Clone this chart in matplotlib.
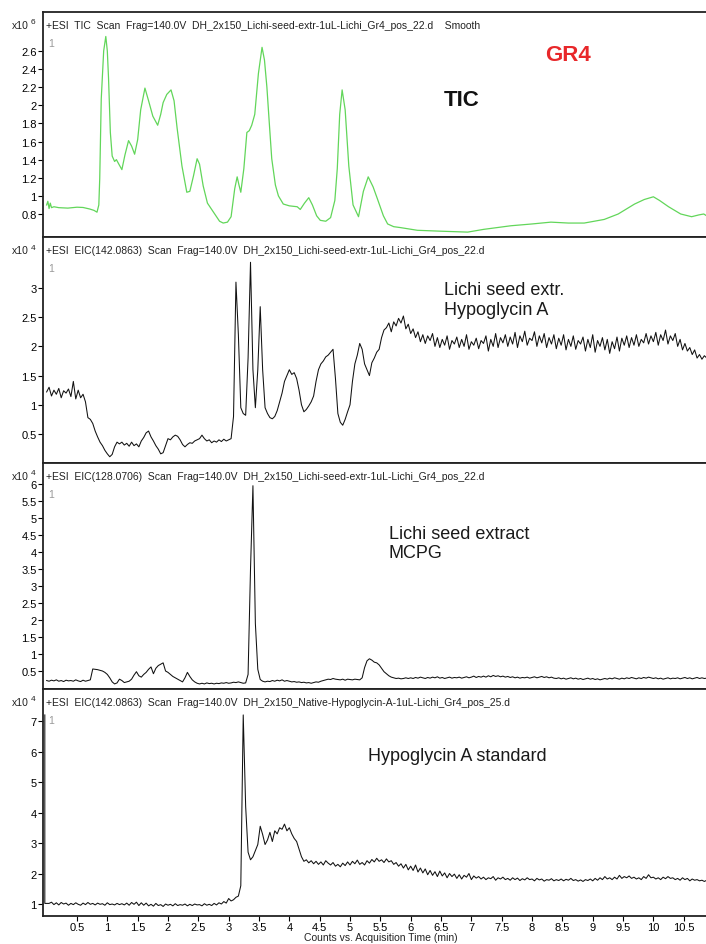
import numpy as np
import matplotlib
matplotlib.use('Agg')
import matplotlib.pyplot as plt
from matplotlib.ticker import FuncFormatter

plt.rcParams['font.family'] = ['Liberation Sans', 'DejaVu Sans']

# ---- data ----
# TIC (smoothed), counts x10^6
tic_time = [0.00, 0.02, 0.04, 0.06, 0.08, 0.12, 0.20, 0.35, 0.50, 0.60, 0.71, 0.78, 0.83, 0.86,
            0.875, 0.90, 0.94, 0.975, 1.00, 1.02, 1.05, 1.08, 1.12, 1.15, 1.19, 1.24, 1.29, 1.35,
            1.40, 1.45, 1.50, 1.55, 1.62, 1.68, 1.75, 1.83, 1.88, 1.92, 1.98, 2.05, 2.10, 2.15,
            2.23, 2.31, 2.36, 2.42, 2.48, 2.52, 2.58, 2.65, 2.75, 2.85, 2.91, 2.98, 3.04, 3.10,
            3.14, 3.17, 3.20, 3.25, 3.30, 3.34, 3.38, 3.43, 3.49, 3.55, 3.59, 3.63, 3.67, 3.71,
            3.77, 3.82, 3.90, 4.00, 4.13, 4.18, 4.25, 4.32, 4.38, 4.45, 4.51, 4.60, 4.68, 4.75,
            4.79, 4.83, 4.87, 4.92, 4.98, 5.05, 5.14, 5.22, 5.30, 5.38, 5.45, 5.55, 5.62, 5.72,
            5.83, 6.11, 6.50, 6.94, 7.20, 7.65, 8.00, 8.31, 8.60, 8.86, 9.19, 9.42, 9.69, 9.85,
            10.00, 10.10, 10.25, 10.45, 10.63, 10.75, 10.83, 10.90]
tic_counts = [0.90, 0.94, 0.86, 0.92, 0.87, 0.88, 0.87, 0.865, 0.875, 0.872, 0.855, 0.84, 0.82, 0.90,
              1.19, 2.07, 2.60, 2.76, 2.60, 2.30, 1.70, 1.44, 1.38, 1.40, 1.35, 1.29, 1.45, 1.61,
              1.55, 1.46, 1.62, 1.95, 2.19, 2.05, 1.88, 1.78, 1.90, 2.03, 2.12, 2.17, 2.05, 1.75,
              1.33, 1.04, 1.05, 1.22, 1.41, 1.35, 1.11, 0.92, 0.82, 0.72, 0.70, 0.71, 0.77, 1.08,
              1.21, 1.12, 1.04, 1.30, 1.70, 1.72, 1.78, 1.90, 2.35, 2.64, 2.50, 2.20, 1.80, 1.41,
              1.12, 1.00, 0.91, 0.89, 0.88, 0.85, 0.92, 0.98, 0.90, 0.78, 0.73, 0.72, 0.76, 0.95,
              1.30, 1.90, 2.17, 1.95, 1.33, 0.90, 0.77, 1.05, 1.21, 1.10, 0.97, 0.78, 0.69, 0.66,
              0.65, 0.62, 0.61, 0.60, 0.63, 0.67, 0.69, 0.71, 0.70, 0.70, 0.74, 0.80, 0.91, 0.96,
              0.99, 0.95, 0.88, 0.80, 0.77, 0.79, 0.80, 0.77]

# EIC traces, one scan every 0.04 min starting at 0 min
scan_step = 0.04

# EIC(142.0863) lichi seed extract, counts x10^4
eic142_seed = [
    1.22, 1.30, 1.15, 1.25, 1.18, 1.28, 1.12, 1.24, 1.20, 1.27,
    1.14, 1.40, 1.10, 1.25, 1.12, 1.18, 1.05, 0.78, 0.75, 0.68,
    0.55, 0.45, 0.36, 0.30, 0.22, 0.16, 0.11, 0.15, 0.28, 0.36,
    0.33, 0.36, 0.31, 0.34, 0.29, 0.36, 0.30, 0.33, 0.28, 0.38,
    0.44, 0.52, 0.55, 0.45, 0.38, 0.30, 0.24, 0.16, 0.18, 0.30,
    0.42, 0.40, 0.45, 0.48, 0.46, 0.40, 0.32, 0.28, 0.32, 0.35,
    0.34, 0.38, 0.40, 0.42, 0.48, 0.42, 0.38, 0.40, 0.35, 0.38,
    0.36, 0.40, 0.37, 0.41, 0.38, 0.40, 0.42, 0.80, 3.10, 2.20,
    0.95, 0.85, 0.82, 1.80, 3.44, 1.60, 0.95, 1.60, 2.68, 1.60,
    0.95, 0.85, 0.78, 0.76, 0.80, 0.90, 1.05, 1.20, 1.40, 1.50,
    1.60, 1.52, 1.55, 1.45, 1.25, 1.00, 0.88, 0.92, 0.98, 1.05,
    1.15, 1.40, 1.60, 1.70, 1.75, 1.82, 1.85, 1.90, 1.95, 1.45,
    0.85, 0.70, 0.65, 0.75, 0.88, 1.00, 1.40, 1.70, 1.85, 2.05,
    1.95, 1.70, 1.60, 1.50, 1.72, 1.80, 1.90, 1.95, 2.15, 2.28,
    2.32, 2.40, 2.25, 2.42, 2.35, 2.48, 2.40, 2.52, 2.30, 2.38,
    2.22, 2.30, 2.15, 2.25, 2.08, 2.20, 2.05, 2.18, 2.10, 2.22,
    2.00, 2.15, 1.98, 2.12, 2.02, 2.18, 1.95, 2.10, 2.04, 2.16,
    1.98, 2.12, 2.00, 2.20, 1.95, 2.08, 2.02, 2.14, 1.96, 2.10,
    2.05, 2.18, 1.92, 2.12, 2.00, 2.22, 1.98, 2.15, 2.06, 2.20,
    2.00, 2.16, 2.04, 2.24, 1.98, 2.18, 2.08, 2.26, 2.02, 2.14,
    2.10, 2.25, 2.00, 2.18, 2.06, 2.22, 1.98, 2.15, 2.04, 2.20,
    1.96, 2.14, 2.02, 2.20, 1.94, 2.12, 2.00, 2.18, 1.95, 2.10,
    2.04, 2.16, 1.92, 2.12, 1.98, 2.20, 1.90, 2.10, 2.00, 2.15,
    1.94, 2.12, 1.88, 2.08, 1.96, 2.16, 1.92, 2.14, 2.02, 2.18,
    1.98, 2.15, 2.02, 2.20, 2.00, 2.12, 2.06, 2.22, 2.04, 2.18,
    2.08, 2.24, 2.02, 2.20, 2.10, 2.28, 2.04, 2.18, 2.10, 2.22,
    2.00, 2.12, 1.94, 2.05, 1.92, 1.98, 1.86, 1.94, 1.80, 1.86,
    1.78, 1.84, 1.80]

# EIC(128.0706) lichi seed extract, counts x10^4
eic128_seed = [
    0.22, 0.20, 0.23, 0.21, 0.24, 0.20, 0.22, 0.19, 0.23, 0.21,
    0.22, 0.20, 0.24, 0.21, 0.19, 0.23, 0.20, 0.22, 0.24, 0.56,
    0.55, 0.54, 0.52, 0.50, 0.46, 0.40, 0.30, 0.18, 0.12, 0.15,
    0.26, 0.22, 0.16, 0.18, 0.20, 0.26, 0.38, 0.48, 0.36, 0.32,
    0.40, 0.46, 0.55, 0.62, 0.42, 0.58, 0.66, 0.70, 0.74, 0.50,
    0.46, 0.40, 0.34, 0.30, 0.26, 0.22, 0.18, 0.30, 0.46, 0.34,
    0.24, 0.18, 0.14, 0.12, 0.14, 0.12, 0.15, 0.13, 0.14, 0.12,
    0.14, 0.13, 0.15, 0.14, 0.16, 0.14, 0.15, 0.17, 0.16, 0.18,
    0.16, 0.14, 0.15, 0.40, 3.50, 5.95, 1.90, 0.55, 0.25, 0.20,
    0.18, 0.20, 0.19, 0.22, 0.20, 0.23, 0.21, 0.24, 0.20, 0.22,
    0.20, 0.18, 0.19, 0.17, 0.18, 0.16, 0.17, 0.15, 0.16, 0.14,
    0.16, 0.18, 0.17, 0.20, 0.22, 0.24, 0.26, 0.25, 0.28, 0.26,
    0.25, 0.24, 0.26, 0.23, 0.26, 0.25, 0.24, 0.26, 0.25, 0.24,
    0.30, 0.60, 0.80, 0.86, 0.82, 0.76, 0.74, 0.68, 0.58, 0.48,
    0.42, 0.36, 0.32, 0.30, 0.28, 0.29, 0.27, 0.28, 0.30, 0.28,
    0.30, 0.28, 0.31, 0.29, 0.32, 0.30, 0.28, 0.31, 0.29, 0.32,
    0.30, 0.33, 0.29, 0.31, 0.28, 0.30, 0.32, 0.29, 0.31, 0.30,
    0.32, 0.29, 0.31, 0.33, 0.30, 0.32, 0.35, 0.31, 0.34, 0.32,
    0.35, 0.32, 0.36, 0.33, 0.37, 0.34, 0.36, 0.33, 0.35, 0.32,
    0.34, 0.31, 0.33, 0.30, 0.32, 0.29, 0.31, 0.30, 0.32, 0.29,
    0.31, 0.33, 0.30, 0.32, 0.34, 0.31, 0.33, 0.30, 0.32, 0.29,
    0.28, 0.30, 0.27, 0.29, 0.26, 0.28, 0.30, 0.27, 0.29, 0.26,
    0.28, 0.25, 0.27, 0.29, 0.26, 0.28, 0.25, 0.27, 0.24, 0.26,
    0.28, 0.26, 0.29, 0.27, 0.30, 0.28, 0.26, 0.29, 0.27, 0.30,
    0.28, 0.31, 0.29, 0.27, 0.30, 0.28, 0.31, 0.29, 0.32, 0.30,
    0.28, 0.30, 0.27, 0.29, 0.26, 0.28, 0.30, 0.27, 0.29, 0.28,
    0.30, 0.27, 0.29, 0.31, 0.28, 0.30, 0.27, 0.29, 0.31, 0.28,
    0.30, 0.28, 0.29]

# EIC(142.0863) native hypoglycin A standard, counts x10^4
# first scan is the start-up spike drawn along the left edge
std_start_spike = 7.20
eic142_std = [
    1.02, 1.06, 0.98, 1.04, 0.97, 1.05, 1.00, 1.03, 0.96,
    1.02, 0.98, 1.04, 0.99, 0.96, 1.03, 0.98, 1.05, 0.99, 1.02,
    0.97, 1.03, 0.99, 1.01, 0.96, 1.04, 0.98, 1.00, 0.97, 1.02,
    0.98, 1.01, 0.97, 1.03, 0.96, 1.05, 0.99, 1.06, 0.95, 1.04,
    0.96, 1.03, 0.94, 0.99, 0.93, 1.02, 0.95, 0.98, 0.92, 1.00,
    0.96, 0.99, 0.94, 1.01, 0.95, 0.98, 0.96, 1.00, 0.94, 0.99,
    0.95, 1.00, 0.97, 0.98, 0.94, 1.01, 0.96, 0.99, 0.95, 1.02,
    0.97, 1.04, 1.00, 1.08, 1.03, 1.18, 1.10, 1.14, 1.22, 1.26,
    1.60, 7.20, 4.20, 2.70, 2.45, 2.55, 2.75, 2.95, 3.55, 3.28,
    2.95, 3.10, 3.35, 3.05, 3.40, 3.30, 3.50, 3.45, 3.62, 3.40,
    3.50, 3.30, 3.15, 3.05, 2.80, 2.55, 2.40, 2.45, 2.35, 2.42,
    2.32, 2.40, 2.30, 2.38, 2.28, 2.42, 2.34, 2.28, 2.36, 2.24,
    2.30, 2.22, 2.34, 2.26, 2.38, 2.28, 2.40, 2.32, 2.44, 2.30,
    2.36, 2.28, 2.42, 2.34, 2.46, 2.38, 2.50, 2.40, 2.45, 2.36,
    2.48, 2.38, 2.42, 2.30, 2.36, 2.24, 2.32, 2.18, 2.30, 2.12,
    2.24, 2.10, 2.28, 2.05, 2.18, 2.02, 2.15, 1.96, 2.10, 1.94,
    2.06, 1.90, 2.08, 1.92, 2.02, 1.86, 2.00, 1.90, 1.98, 1.84,
    1.96, 1.82, 1.94, 1.88, 2.00, 1.80, 1.92, 1.85, 1.90, 1.82,
    1.88, 1.80, 1.86, 1.83, 1.90, 1.78, 1.86, 1.82, 1.88, 1.80,
    1.84, 1.78, 1.86, 1.80, 1.85, 1.77, 1.83, 1.79, 1.86, 1.80,
    1.82, 1.76, 1.84, 1.79, 1.82, 1.75, 1.80, 1.78, 1.83, 1.76,
    1.80, 1.77, 1.82, 1.76, 1.81, 1.78, 1.84, 1.77, 1.80, 1.75,
    1.79, 1.74, 1.80, 1.77, 1.82, 1.76, 1.84, 1.78, 1.86, 1.80,
    1.90, 1.82, 1.86, 1.80, 1.88, 1.82, 1.94, 1.84, 1.90, 1.86,
    1.92, 1.84, 1.88, 1.82, 1.86, 1.80, 1.90, 1.84, 1.96, 1.86,
    1.88, 1.82, 1.86, 1.80, 1.88, 1.83, 1.90, 1.84, 1.86, 1.80,
    1.84, 1.78, 1.86, 1.80, 1.84, 1.76, 1.82, 1.78, 1.80, 1.76,
    1.78, 1.74, 1.78]

headers = [
    '+ESI  TIC  Scan  Frag=140.0V  DH_2x150_Lichi-seed-extr-1uL-Lichi_Gr4_pos_22.d    Smooth',
    '+ESI  EIC(142.0863)  Scan  Frag=140.0V  DH_2x150_Lichi-seed-extr-1uL-Lichi_Gr4_pos_22.d',
    '+ESI  EIC(128.0706)  Scan  Frag=140.0V  DH_2x150_Lichi-seed-extr-1uL-Lichi_Gr4_pos_22.d',
    '+ESI  EIC(142.0863)  Scan  Frag=140.0V  DH_2x150_Native-Hypoglycin-A-1uL-Lichi_Gr4_pos_25.d',
]
exponents = ['6', '4', '4', '4']
y_ticks = [np.arange(0.8, 2.61, 0.2), np.arange(0.5, 3.01, 0.5),
           np.arange(0.5, 6.01, 0.5), np.arange(1, 7.01, 1)]
y_limits = [(0.546, 3.03), (0.003, 3.873), (-0.029, 6.618), (0.607, 8.05)]
x_ticks = np.arange(0.5, 10.51, 0.5)

# panel boxes in pixels (top, bottom) of a 706 x 945 figure
W, H = 706, 945
boxes = [(13, 238), (238, 464), (464, 690), (690, 917)]
left_px = 43

fig = plt.figure(figsize=(W / 100, H / 100), dpi=100)

std_time = np.arange(1, len(eic142_std) + 1) * scan_step
series = [
    (tic_time, tic_counts, '#62d65a', 0.9),
    (np.arange(len(eic142_seed)) * scan_step, eic142_seed, '#111111', 0.75),
    (np.arange(len(eic128_seed)) * scan_step, eic128_seed, '#111111', 0.75),
    (np.concatenate([[-0.03, -0.03], std_time]),
     np.concatenate([[std_start_spike, eic142_std[0]], eic142_std]), '#111111', 0.75),
]

axes = []
for i, (top, bot) in enumerate(boxes):
    ax = fig.add_axes([left_px / W, 1 - bot / H, (W - left_px + 2) / W, (bot - top) / H])
    t, v, col, lw = series[i]
    ax.plot(t, v, color=col, lw=lw)
    ax.set_xlim(-0.06, 10.9)
    ax.set_ylim(*y_limits[i])
    ax.set_yticks(y_ticks[i])
    ax.yaxis.set_major_formatter(FuncFormatter(lambda val, pos: '%g' % round(val, 2)))
    ax.tick_params(axis='y', direction='out', length=3.5, width=0.8, pad=1, labelsize=8)
    for s in ['top', 'bottom', 'left']:
        ax.spines[s].set_linewidth(1.3)
        ax.spines[s].set_color('#222222')
    ax.spines['right'].set_visible(False)
    if i < 3:
        ax.set_xticks([])
    else:
        ax.set_xticks(x_ticks)
        ax.xaxis.set_major_formatter(FuncFormatter(lambda val, pos: '%g' % val))
        ax.tick_params(axis='x', direction='out', length=3.5, width=0.8, pad=1, labelsize=8)
    hgt = bot - top
    ax.text(3 / (W - left_px), 1 - 13 / hgt, headers[i], transform=ax.transAxes,
            fontsize=7.5, va='center', ha='left', color='#222222')
    ax.text(5 / (W - left_px), 1 - 31 / hgt, '1', transform=ax.transAxes,
            fontsize=7.5, va='center', ha='left', color='#999999')
    fig.text(29 / W, 1 - (top + 13) / H, 'x10', fontsize=7.5, ha='right', va='center',
             color='#222222')
    fig.text(31 / W, 1 - (top + 10) / H, exponents[i], fontsize=6, ha='left', va='center',
             color='#222222')
    axes.append(ax)

# annotations
axes[0].text(0.790, 0.809, 'GR4', transform=axes[0].transAxes, fontsize=16,
             fontweight='bold', color='#e8272a', ha='center', va='center')
axes[0].text(0.629, 0.609, 'TIC', transform=axes[0].transAxes, fontsize=16,
             fontweight='bold', color='#111111', ha='center', va='center')
axes[1].text(0.603, 0.723, 'Lichi seed extr.\nHypoglycin A', transform=axes[1].transAxes,
             fontsize=13, color='#1a1a1a', ha='left', va='center')
axes[2].text(0.520, 0.646, 'Lichi seed extract\nMCPG', transform=axes[2].transAxes,
             fontsize=13, color='#1a1a1a', ha='left', va='center')
axes[3].text(0.489, 0.705, 'Hypoglycin A standard', transform=axes[3].transAxes,
             fontsize=13, color='#1a1a1a', ha='left', va='center')

fig.text(381 / W, 1 - 938 / H, 'Counts vs. Acquisition Time (min)', fontsize=7.5,
         ha='center', va='center', color='#222222')

fig.savefig('out.png', dpi=100)
